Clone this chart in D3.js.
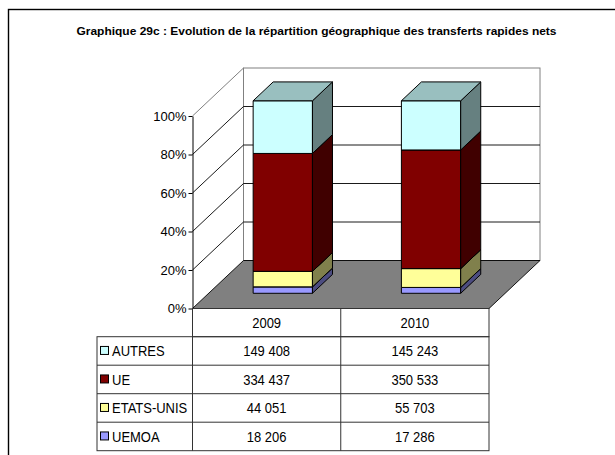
<!DOCTYPE html>
<html>
<head>
<meta charset="utf-8">
<script src="https://cdn.jsdelivr.net/npm/d3@7"></script>
<style>
  html, body { margin: 0; padding: 0; background: #fff; }
  svg { display: block; font-family: "Liberation Sans", Arial, sans-serif; }
</style>
</head>
<body>
<svg id="chart" width="615" height="455"></svg>
<script>
// data
const years = ['2009', '2010'];
const series = ['AUTRES', 'UE', 'ETATS-UNIS', 'UEMOA'];
const autres = [149408, 145243];
const ue = [334437, 350533];
const etatsUnis = [44051, 55703];
const uemoa = [18206, 17286];
const yTicks = [0, 0.2, 0.4, 0.6, 0.8, 1];
const title = 'Graphique 29c :  Evolution de la répartition géographique des transferts rapides nets';

const colors = {
  'AUTRES': {front: '#ccffff', side: '#668080', top: '#99bfbf'},
  'UE': {front: '#800000', side: '#400000', top: '#600000'},
  'ETATS-UNIS': {front: '#ffff99', side: '#80804c', top: '#bfbf73'},
  'UEMOA': {front: '#9999ff', side: '#4c4c80', top: '#7373bf'},
};

const svg = d3.select('#chart');
const frExpand = d3.formatLocale({decimal: ',', thousands: ' ', grouping: [3], currency: ['', '']});
const fmtNum = frExpand.format(',d');

// outer frame (runs off the right and bottom of the picture)
svg.append('rect')
   .attr('x', 8.5).attr('y', 9.5)
   .attr('width', 640).attr('height', 480)
   .attr('fill', 'none').attr('stroke', '#000').attr('stroke-width', 1.4);

svg.append('text')
   .attr('x', 316.5).attr('y', 35)
   .attr('text-anchor', 'middle')
   .attr('font-size', '11.5px').attr('font-weight', 'bold')
   .attr('textLength', 480).attr('lengthAdjust', 'spacingAndGlyphs')
   .text(title);

// scales
const plot = {left: 192.5, right: 489, bottom: 308.5, top: 116};
const depth = {dx: 51, dy: -48};
const barZ = [0.317, 0.71];

const x = d3.scaleBand().domain(years).range([plot.left, plot.right]);
const y = d3.scaleLinear().domain([0, 1]).range([plot.bottom, plot.top]);

// point in the front plane pushed back by z (0 = front, 1 = back wall)
function proj(px, v, z) {
  return [px + z * depth.dx, y(v) + z * depth.dy];
}
const line = (pts) => 'M' + pts.map((p) => p.join(',')).join('L') + 'Z';

const walls = svg.append('g');

// left side wall
walls.append('path')
     .attr('d', line([proj(plot.left, 0, 0), proj(plot.left, 1, 0), proj(plot.left, 1, 1), proj(plot.left, 0, 1)]))
     .attr('fill', '#fff').attr('stroke', 'none');

// back wall
const bl = proj(plot.left, 0, 1);
const tr = proj(plot.right, 1, 1);
walls.append('rect')
     .attr('x', bl[0]).attr('y', tr[1])
     .attr('width', tr[0] - bl[0]).attr('height', bl[1] - tr[1])
     .attr('fill', '#fff').attr('stroke', '#808080');

// gridlines: diagonal on the side wall, then across the back
yTicks.filter((t) => t > 0 && t < 1).forEach((t) => {
  const a = proj(plot.left, t, 0);
  const b = proj(plot.left, t, 1);
  const c = proj(plot.right, t, 1);
  walls.append('path')
       .attr('d', `M${a}L${b}L${c}`)
       .attr('fill', 'none').attr('stroke', '#000').attr('stroke-width', 0.9);
});
walls.append('path')
     .attr('d', `M${proj(plot.left, 1, 0)}L${proj(plot.left, 1, 1)}`)
     .attr('stroke', '#808080').attr('fill', 'none');

// floor
walls.append('path')
     .attr('d', line([proj(plot.left, 0, 0), proj(plot.right, 0, 0), proj(plot.right, 0, 1), proj(plot.left, 0, 1)]))
     .attr('fill', '#808080').attr('stroke', '#000').attr('stroke-width', 0.9);

// stacked bars (100%)
const rows = years.map((yr, i) => ({
  year: yr,
  'UEMOA': uemoa[i],
  'ETATS-UNIS': etatsUnis[i],
  'UE': ue[i],
  'AUTRES': autres[i],
}));
const stacked = d3.stack()
                  .keys(['UEMOA', 'ETATS-UNIS', 'UE', 'AUTRES'])
                  .offset(d3.stackOffsetExpand)(rows);

const barW = x.bandwidth() * 0.4;
const bars = svg.append('g');

stacked.forEach((layer) => {
  const c = colors[layer.key];
  layer.forEach((d) => {
    const x0 = x(d.data.year) + (x.bandwidth() - barW) / 2;
    const x1 = x0 + barW;
    const [z0, z1] = barZ;
    const g = bars.append('g').attr('stroke', '#000').attr('stroke-width', 1).attr('stroke-linejoin', 'round');
    // front
    g.append('path').attr('fill', c.front)
     .attr('d', line([proj(x0, d[0], z0), proj(x1, d[0], z0), proj(x1, d[1], z0), proj(x0, d[1], z0)]));
    // right side
    g.append('path').attr('fill', c.side)
     .attr('d', line([proj(x1, d[0], z0), proj(x1, d[0], z1), proj(x1, d[1], z1), proj(x1, d[1], z0)]));
    // top
    g.append('path').attr('fill', c.top)
     .attr('d', line([proj(x0, d[1], z0), proj(x1, d[1], z0), proj(x1, d[1], z1), proj(x0, d[1], z1)]));
  });
});

// y axis
const axis = svg.append('g')
                .attr('transform', `translate(${plot.left},0)`)
                .call(d3.axisLeft(y).tickValues(yTicks).tickFormat(d3.format('.0%')).tickSize(4).tickSizeOuter(0));
axis.select('.domain').attr('stroke', '#000');
axis.selectAll('.tick line').attr('stroke', '#000');
axis.selectAll('.tick text')
    .attr('x', -6)
    .attr('fill', '#000')
    .attr('font-family', '"Liberation Sans", Arial, sans-serif')
    .attr('font-size', '13px');

// data table
const table = svg.append('g');
const tableLeft = 97;
const headerTop = plot.bottom;
const headerBottom = 336.7;
const rowH = 28.5;
const tableBottom = headerBottom + series.length * rowH;
const values = {'AUTRES': autres, 'UE': ue, 'ETATS-UNIS': etatsUnis, 'UEMOA': uemoa};

function stretchText(sel, tx, ty, anchor, str) {
  sel.append('text')
     .attr('transform', `translate(${tx},${ty}) scale(1,1.18)`)
     .attr('text-anchor', anchor)
     .attr('font-size', '13px')
     .attr('fill', '#000')
     .text(str);
}

const tableStroke = '#333';
// header cells
table.append('rect')
     .attr('x', plot.left).attr('y', headerTop)
     .attr('width', plot.right - plot.left).attr('height', headerBottom - headerTop)
     .attr('fill', 'none').attr('stroke', tableStroke);
years.forEach((yr) => {
  stretchText(table, x(yr) + x.bandwidth() / 2, (headerTop + headerBottom) / 2 + 5.5, 'middle', yr);
});

// body
table.append('rect')
     .attr('x', tableLeft).attr('y', headerBottom)
     .attr('width', plot.right - tableLeft).attr('height', tableBottom - headerBottom)
     .attr('fill', 'none').attr('stroke', tableStroke);
x.domain().slice(1).forEach((yr) => {
  table.append('line')
       .attr('x1', x(yr)).attr('x2', x(yr))
       .attr('y1', headerTop).attr('y2', tableBottom)
       .attr('stroke', tableStroke);
});
table.append('line')
     .attr('x1', plot.left).attr('x2', plot.left)
     .attr('y1', headerTop).attr('y2', tableBottom)
     .attr('stroke', tableStroke);

series.forEach((s, i) => {
  const top = headerBottom + i * rowH;
  if (i > 0) {
    table.append('line')
         .attr('x1', tableLeft).attr('x2', plot.right)
         .attr('y1', top).attr('y2', top)
         .attr('stroke', tableStroke);
  }
  const cy = top + rowH / 2;
  table.append('rect')
       .attr('x', 100.5).attr('y', cy - 4.5)
       .attr('width', 8).attr('height', 8)
       .attr('fill', colors[s].front).attr('stroke', '#000');
  stretchText(table, 112, cy + 5.5, 'start', s);
  years.forEach((yr, j) => {
    stretchText(table, x(yr) + x.bandwidth() / 2, cy + 5.5, 'middle', fmtNum(values[s][j]));
  });
});
</script>
</body>
</html>
